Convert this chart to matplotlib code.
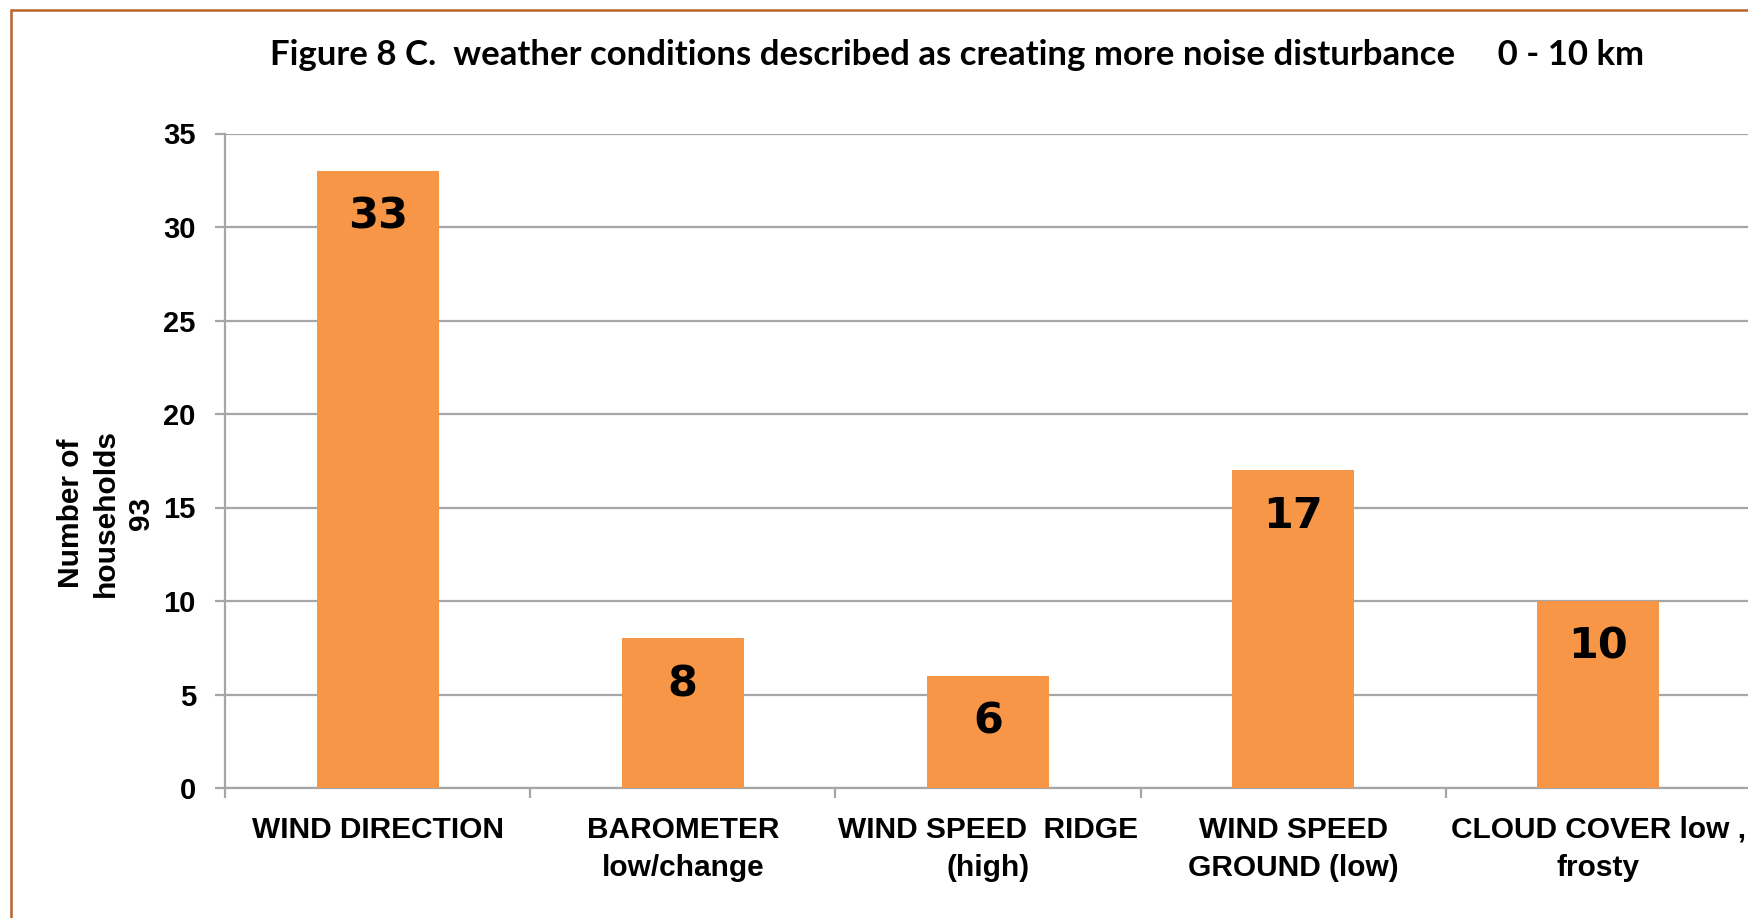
import matplotlib
matplotlib.use("Agg")
import matplotlib.pyplot as plt
from matplotlib.patches import Rectangle
import numpy as np

# data
categories = [
    "WIND DIRECTION",
    "BAROMETER\nlow/change",
    "WIND SPEED  RIDGE\n(high)",
    "WIND SPEED\nGROUND (low)",
    "CLOUD COVER low ,\nfrosty",
]
households = [33, 8, 6, 17, 10]
y_ticks = [0, 5, 10, 15, 20, 25, 30, 35]

title = "Figure 8 C.  weather conditions described as creating more noise disturbance     0 - 10 km"
y_label = "Number of\nhouseholds\n93"

W, H = 1748, 918
bar_color = "#F79646"
grid_color = "#A6A6A6"
border_color = "#B5652A"

fig = plt.figure(figsize=(W / 100, H / 100), dpi=100)

# plot area in pixels (runs a little past the right edge, as in the reference)
left, right, top, bottom = 225, 1751, 133.5, 788
ax = fig.add_axes([left / W, 1 - bottom / H, (right - left) / W, (bottom - top) / H])

x = np.arange(len(categories))
ax.bar(x, households, width=0.4, color=bar_color, zorder=3)

for xi, v in zip(x, households):
    ax.annotate(str(v), xy=(xi, v), xytext=(0, -33), textcoords="offset points",
                ha="center", va="center", fontsize=31, fontweight="bold",
                family="DejaVu Sans", color="black", zorder=4)

ax.set_xlim(-0.5, len(categories) - 0.5)
ax.set_ylim(0, 35)
ax.set_yticks(y_ticks)
ax.set_yticklabels([str(t) for t in y_ticks], fontsize=21, fontweight="bold",
                   family="Liberation Sans")
ax.yaxis.grid(True, color=grid_color, linewidth=1.6, zorder=0)
ax.tick_params(axis="y", length=7, width=1.6, color=grid_color, pad=14)

# category boundaries as major ticks, labels on minor ticks at centers
ax.set_xticks(np.arange(len(categories) + 1) - 0.5)
ax.set_xticklabels([])
ax.tick_params(axis="x", which="major", length=7, width=1.6, color=grid_color)
ax.set_xticks(x, minor=True)
ax.set_xticklabels(categories, minor=True, fontsize=21.5, fontweight="bold",
                   family="Liberation Sans", linespacing=1.45)
ax.tick_params(axis="x", which="minor", length=0, pad=20)

for side in ["top", "right"]:
    ax.spines[side].set_visible(False)
for side in ["left", "bottom"]:
    ax.spines[side].set_color(grid_color)
    ax.spines[side].set_linewidth(1.6)

fig.text(106 / W, 1 - 513 / H, y_label, rotation=90, ha="center", va="center",
         fontsize=21.5, fontweight="bold", family="Liberation Sans",
         linespacing=1.32, multialignment="center")
fig.text(957 / W, 1 - 65 / H, title, ha="center", va="baseline",
         fontsize=25, fontweight="bold", family="Lato")

# outer chart border (only left and top are visible in the crop)
fig.add_artist(Rectangle((10.5 / W, -0.1), 1.2, 1 - 9.5 / H + 0.1,
                         transform=fig.transFigure, fill=False,
                         edgecolor=border_color, linewidth=1.8))

fig.savefig("out.png", dpi=100)
